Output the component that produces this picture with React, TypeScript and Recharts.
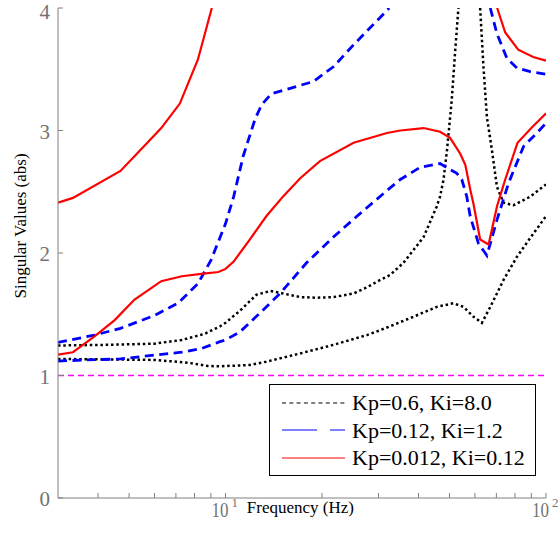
import React from 'react';
import { LineChart, Line, XAxis, YAxis, Legend } from 'recharts';

const FONT = '"Liberation Serif", "Times New Roman", serif';
const AXIS_GRAY = '#808080';
const TICK_GRAY = '#737373';
const MAGENTA = '#ff00ff';

// frequency (Hz) and singular value pairs; null = off the top of the axes
const blackHiF = [3, 4.2, 6.0, 7.3, 8.6, 9.6, 10, 11.1, 12.5, 13.8, 15.1, 17.1, 19.2, 21.7, 25.1, 27.6, 30.4, 32.6, 35.9, 41.5, 45.6, 46.7, 47.9, 49.1, 50.8, 52.1, 53.3, 57.5, 62.3, 63.8, 65.4, 67.8, 70.3, 73.7, 79.2, 89.3, 100];
const blackHiV = [1.245, 1.25, 1.26, 1.29, 1.34, 1.4, 1.43, 1.53, 1.66, 1.69, 1.67, 1.64, 1.635, 1.64, 1.67, 1.72, 1.78, 1.82, 1.92, 2.13, 2.38, 2.46, 2.6, 2.84, 3.25, 3.66, 4.0, null, 4.0, 3.52, 3.11, 2.84, 2.54, 2.41, 2.39, 2.46, 2.56];

const blackLoF = [3, 4.7, 6.0, 7.6, 8.8, 9.6, 11.9, 13.4, 17.1, 21.7, 27.6, 30.4, 38.6, 45.6, 51.4, 55.3, 59.4, 63.1, 67.0, 73.7, 81.2, 91.4, 100];
const blackLoV = [1.135, 1.13, 1.127, 1.105, 1.078, 1.075, 1.086, 1.113, 1.18, 1.25, 1.33, 1.37, 1.48, 1.56, 1.59, 1.56, 1.48, 1.43, 1.56, 1.78, 1.97, 2.16, 2.3];

const blueHiF = [3, 3.9, 4.7, 6.0, 7.1, 8.2, 9.0, 10.0, 10.6, 11.35, 12.35, 12.96, 13.9, 18.8, 21.7, 25.1, 31.9, 32.4, 50, 67.0, 70.3, 75.5, 81.2, 89.3, 100];
const blueHiV = [1.27, 1.33, 1.385, 1.49, 1.59, 1.75, 1.94, 2.24, 2.46, 2.79, 3.09, 3.21, 3.3, 3.4, 3.52, 3.7, 3.98, 4.0, null, 4.0, 3.79, 3.59, 3.51, 3.48, 3.46];

const blueLoF = [3, 3.7, 4.7, 6.0, 7.3, 8.4, 9.6, 10.0, 11.1, 12.8, 14.8, 17.9, 21.7, 25.7, 31.9, 35.1, 40.5, 46.7, 52.7, 54.6, 56.6, 58.0, 61.5, 65.4, 70.3, 76.4, 85.1, 93.7, 100];
const blueLoV = [1.118, 1.127, 1.135, 1.167, 1.19, 1.22, 1.276, 1.29, 1.357, 1.51, 1.67, 1.92, 2.13, 2.3, 2.51, 2.6, 2.7, 2.73, 2.65, 2.6, 2.46, 2.3, 2.08, 1.98, 2.27, 2.57, 2.87, 2.98, 3.06];

const redHiF = [3, 3.34, 4.7, 5.7, 6.3, 7.2, 8.2, 9.06, 20, 70.4, 74.6, 81.9, 91.2, 100];
const redHiV = [2.41, 2.45, 2.67, 2.9, 3.02, 3.22, 3.58, 4.0, null, 4.0, 3.8, 3.66, 3.6, 3.57];

const redLoF = [3, 3.34, 3.9, 4.5, 5.2, 6.3, 7.3, 8.4, 9.5, 10.0, 10.6, 11.9, 13.4, 15.1, 17.1, 19.7, 25.1, 31.9, 35.1, 41.5, 46.7, 50.2, 54.0, 56.0, 58.0, 59.4, 62.3, 66.2, 70.3, 74.6, 81.5, 90, 98.3, 100];
const redLoV = [1.17, 1.19, 1.32, 1.45, 1.62, 1.77, 1.81, 1.83, 1.845, 1.87, 1.93, 2.11, 2.3, 2.46, 2.61, 2.75, 2.9, 2.98, 3.0, 3.02, 2.99, 2.94, 2.81, 2.72, 2.52, 2.4, 2.11, 2.07, 2.38, 2.6, 2.9, 3.02, 3.12, 3.14];

// unity gain level, across the whole frequency range
const unityF = [3, 100];
const unityV = [1, 1];

const LEGEND_LABELS = ['Kp=0.6, Ki=8.0', 'Kp=0.12, Ki=1.2', 'Kp=0.012, Ki=0.12'];
const X_TICKS = [4, 5, 6, 7, 8, 9, 10, 20, 30, 40, 50, 60, 70, 80, 90, 100];
const DECADE_SUP: Record<number, string> = { 10: '1', 100: '2' };
const Y_TICKS = [0, 1, 2, 3, 4];

const zip = (f: number[], v: (number | null)[]) => f.map((x, i) => ({ f: x, v: v[i] }));

const STYLES = {
  black: { color: '#000000', width: 2.5, dash: '2.5 2.8', legendDash: '4 3.3' },
  blue: { color: '#0000ff', width: 2.8, dash: '9 5.5', legendDash: '35 13' },
  red: { color: '#ff0000', width: 2.2, dash: undefined, legendDash: undefined },
};

const SERIES = [
  { id: 'unity', data: zip(unityF, unityV), color: MAGENTA, width: 1.3, dash: '6 4' },
  { id: 'blackHi', data: zip(blackHiF, blackHiV), ...STYLES.black },
  { id: 'blackLo', data: zip(blackLoF, blackLoV), ...STYLES.black },
  { id: 'blueHi', data: zip(blueHiF, blueHiV), ...STYLES.blue },
  { id: 'blueLo', data: zip(blueLoF, blueLoV), ...STYLES.blue },
  { id: 'redHi', data: zip(redHiF, redHiV), ...STYLES.red },
  { id: 'redLo', data: zip(redLoF, redLoV), ...STYLES.red },
];

const LEGEND_ITEMS = [STYLES.black, STYLES.blue, STYLES.red].map((s, i) => ({ ...s, label: LEGEND_LABELS[i] }));

const BottomTick = ({ x, y, payload }: any) => {
  const sup = DECADE_SUP[payload.value];
  return (
    <g>
      <line x1={x} x2={x} y1={y} y2={y - 5} stroke={AXIS_GRAY} />
      {sup && (
        <text x={x - 14} y={y + 19} fill={TICK_GRAY} fontSize={21} fontFamily={FONT}>
          <tspan textLength={17} lengthAdjust="spacingAndGlyphs">10</tspan>
          <tspan dx={3} dy={-10} fontSize={13}>
            {sup}
          </tspan>
        </text>
      )}
    </g>
  );
};

const TopTick = ({ x, y }: any) => <line x1={x} x2={x} y1={y} y2={y + 5} stroke={AXIS_GRAY} />;

const LeftTick = ({ x, y, payload }: any) => (
  <g>
    <line x1={x + 8} x2={x + 13} y1={y} y2={y} stroke={AXIS_GRAY} />
    <text
      x={x}
      y={y + (payload.value === 4 ? 11 : 8)}
      textAnchor="end"
      fill={TICK_GRAY}
      fontSize={21}
      fontFamily={FONT}
    >
      {payload.value}
    </text>
  </g>
);

const RightTick = ({ x, y }: any) => <line x1={x} x2={x - 5} y1={y} y2={y} stroke={AXIS_GRAY} />;

const LegendBox = () => (
  <div
    style={{
      width: 267,
      height: 92,
      boxSizing: 'border-box',
      border: '1.5px solid #000',
      background: '#fff',
      paddingTop: 4,
      fontFamily: FONT,
      fontSize: 22,
      color: '#000',
    }}
  >
    {LEGEND_ITEMS.map((it) => (
      <div key={it.label} style={{ display: 'flex', alignItems: 'center', height: 27.5 }}>
        <svg width={82} height={6} style={{ flex: 'none' }}>
          <line x1={12} x2={75} y1={3} y2={3} stroke={it.color} strokeWidth={1} strokeDasharray={it.legendDash} />
        </svg>
        <span style={{ whiteSpace: 'nowrap', lineHeight: '27.5px' }}>{it.label}</span>
      </div>
    ))}
  </div>
);

export default function App() {
  return (
    <div style={{ position: 'absolute', left: 0, top: 0 }}>
      <LineChart width={559} height={540} margin={{ top: 8, right: 13, bottom: 12, left: 0 }}>
        <XAxis
          dataKey="f"
          type="number"
          scale="log"
          domain={[3, 100]}
          allowDataOverflow
          ticks={X_TICKS}
          interval={0}
          height={30}
          tickSize={0}
          tickMargin={0}
          tickLine={false}
          axisLine={{ stroke: AXIS_GRAY }}
          tick={<BottomTick />}
          label={{
            value: 'Frequency (Hz)',
            content: ({ viewBox }: any) => (
              <text x={viewBox.x + viewBox.width * 0.387} y={viewBox.y + 15} fontSize={17} fontFamily={FONT} fill="#000">
                Frequency (Hz)
              </text>
            ),
          }}
        />
        <XAxis
          xAxisId="top"
          orientation="top"
          dataKey="f"
          type="number"
          scale="log"
          domain={[3, 100]}
          allowDataOverflow
          ticks={X_TICKS}
          interval={0}
          height={0}
          tickSize={0}
          tickMargin={0}
          tickLine={false}
          axisLine={{ stroke: AXIS_GRAY }}
          tick={<TopTick />}
        />
        <YAxis
          type="number"
          domain={[0, 4]}
          allowDataOverflow
          ticks={Y_TICKS}
          interval={0}
          width={58}
          tickSize={0}
          tickMargin={8}
          tickLine={false}
          axisLine={{ stroke: AXIS_GRAY }}
          tick={<LeftTick />}
          label={{
            value: 'Singular Values (abs)',
            content: ({ viewBox }: any) => {
              const cx = viewBox.x + 20;
              const cy = viewBox.y + viewBox.height / 2 - 27;
              return (
                <text
                  x={cx}
                  y={cy}
                  transform={`rotate(-90, ${cx}, ${cy})`}
                  textAnchor="middle"
                  dominantBaseline="central"
                  fontSize={17}
                  fontFamily={FONT}
                  fill="#000"
                >
                  Singular Values (abs)
                </text>
              );
            },
          }}
        />
        <YAxis
          yAxisId="right"
          orientation="right"
          type="number"
          domain={[0, 4]}
          ticks={Y_TICKS}
          interval={0}
          width={0}
          tickSize={0}
          tickMargin={0}
          tickLine={false}
          axisLine={{ stroke: AXIS_GRAY }}
          tick={<RightTick />}
        />
        {SERIES.map((s) => (
          <Line
            key={s.id}
            data={s.data}
            dataKey="v"
            type="linear"
            stroke={s.color}
            strokeWidth={s.width}
            strokeDasharray={s.dash}
            dot={false}
            activeDot={false}
            connectNulls={false}
            isAnimationActive={false}
          />
        ))}
        <Legend
          layout="vertical"
          align="center"
          verticalAlign="middle"
          content={() => <LegendBox />}
          wrapperStyle={{ left: 269, top: 384, width: 267, height: 92 }}
        />
      </LineChart>
    </div>
  );
}
